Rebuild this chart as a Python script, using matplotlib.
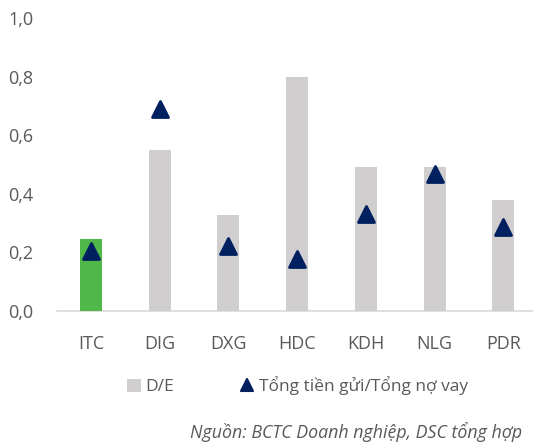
import matplotlib
matplotlib.use("Agg")
import matplotlib.pyplot as plt
from matplotlib.lines import Line2D
from matplotlib.patches import Patch
from matplotlib.markers import MarkerStyle

plt.rcParams['font.family'] = ['Open Sans', 'DejaVu Sans']

categories = ["ITC", "DIG", "DXG", "HDC", "KDH", "NLG", "PDR"]
de_values = [0.246, 0.55, 0.328, 0.80, 0.49, 0.49, 0.38]
deposit_ratio = [0.205, 0.69, 0.222, 0.177, 0.332, 0.466, 0.287]
yticks = [0.0, 0.2, 0.4, 0.6, 0.8, 1.0]
ytick_labels = ["0,0", "0,2", "0,4", "0,6", "0,8", "1,0"]

W, H = 533, 446
fig = plt.figure(figsize=(W / 100, H / 100), dpi=100)
ax = fig.add_axes([56.7 / W, (H - 311) / H, 481 / W, 293 / H])

tri = MarkerStyle("^", joinstyle="round")

bar_colors = ["#50B848"] + ["#D0CECE"] * (len(categories) - 1)
x = list(range(len(categories)))
ax.bar(x, de_values, width=0.32, color=bar_colors, zorder=2)
ax.plot(x, deposit_ratio, linestyle="none", marker=tri, markersize=12,
        color="#002060", markeredgewidth=2, markeredgecolor="#002060",
        zorder=3)

ax.set_xlim(-0.5, len(categories) - 0.5)
ax.set_ylim(0, 1.0)
ax.set_yticks(yticks)
ax.set_yticklabels(ytick_labels)
ax.set_xticks(x)
ax.set_xticklabels(categories)
ax.tick_params(axis="y", length=0, pad=17, labelsize=13, labelcolor="#595959")
ax.tick_params(axis="x", length=0, pad=17, labelsize=13, labelcolor="#595959")
for s in ["top", "right", "left"]:
    ax.spines[s].set_visible(False)
ax.spines["bottom"].set_color("#D9D9D9")
ax.spines["bottom"].set_linewidth(1.2)
ax.spines["bottom"].set_zorder(1)

handles = [
    Patch(facecolor="#D0CECE", edgecolor="none", label="D/E"),
    Line2D([], [], linestyle="none", marker=tri, markersize=9,
           markeredgewidth=1.5, color="#002060", label="Tổng tiền gửi/Tổng nợ vay"),
]
fig.legend(handles=handles, loc="center left", bbox_to_anchor=(111 / W, 1 - 386 / H),
           ncol=2, frameon=False, fontsize=12.5, labelcolor="#595959",
           handlelength=0.8, handleheight=0.8, handletextpad=0.3,
           columnspacing=3.75)

fig.text(522 / W, 1 - 432 / H, "Nguồn: BCTC Doanh nghiệp, DSC tổng hợp",
         ha="right", va="center", fontsize=12.8, style="italic", color="#595959")

fig.savefig("out.png", dpi=100)
